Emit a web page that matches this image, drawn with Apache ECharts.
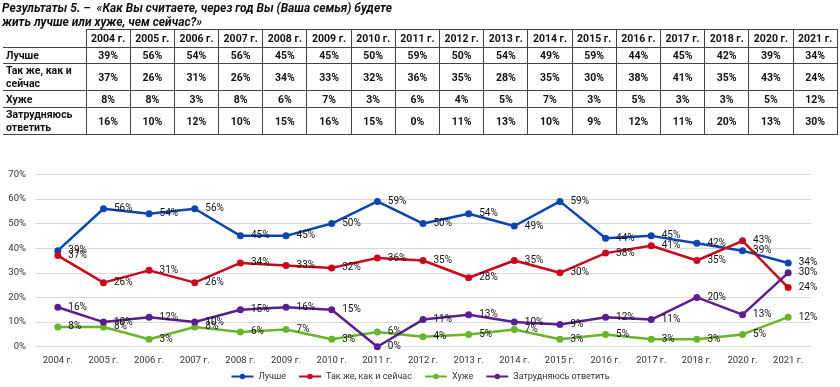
<!DOCTYPE html>
<html>
<head>
<meta charset="utf-8">
<script src="https://cdn.jsdelivr.net/npm/echarts@6/dist/echarts.min.js"></script>
<style>
  html, body { margin:0; padding:0; background:#fff; width:840px; height:387px; overflow:hidden; }
  #title { position:absolute; left:2px; top:1px; font-family:Roboto, 'Noto Sans', sans-serif; font-weight:bold; font-style:italic; font-size:12px; line-height:14px; color:#111; white-space:nowrap; }
  table { position:absolute; left:3px; top:29px; border-collapse:collapse; table-layout:fixed; font-family:Roboto, 'Noto Sans', sans-serif; font-weight:bold; font-size:10.5px; color:#111; }
  td { border:1px solid #444; padding:0; text-align:center; line-height:13px; }
  td.lab { text-align:left; padding-left:3px; border-left:none; }
  tr.h td.lab { border-top:none; }
  #chart { position:absolute; left:0; top:0; width:840px; height:387px; }
</style>
</head>
<body>
<div id="chart"></div>
<div id="title">Результаты 5. –&nbsp; «Как Вы считаете, через год Вы (Ваша семья) будете<br>жить лучше или хуже, чем сейчас?»</div>
<table id="tbl"></table>
<script>
const years = ['2004 г.','2005 г.','2006 г.','2007 г.','2008 г.','2009 г.','2010 г.','2011 г.','2012 г.','2013 г.','2014 г.','2015 г.','2016 г.','2017 г.','2018 г.','2020 г.','2021 г.'];
const seriesNames = ['Лучше','Так же, как и сейчас','Хуже','Затрудняюсь ответить'];
const rowLabels = ['Лучше','Так же, как и<br>сейчас','Хуже','Затрудняюсь<br>ответить'];
const better = [39,56,54,56,45,45,50,59,50,54,49,59,44,45,42,39,34];
const same   = [37,26,31,26,34,33,32,36,35,28,35,30,38,41,35,43,24];
const worse  = [8,8,3,8,6,7,3,6,4,5,7,3,5,3,3,5,12];
const hard   = [16,10,12,10,15,16,15,0,11,13,10,9,12,11,20,13,30];
const yTicks = [0,10,20,30,40,50,60,70];
const colors = ['#0a46ad','#c8081c','#6ab42c','#5a1f8e'];
const allData = [better, same, worse, hard];

// table
const tbl = document.getElementById('tbl');
const rowH = [18,16,27,17,27];
let html = '<colgroup><col style="width:83px">' + years.map(()=>'<col style="width:44.2px">').join('') + '</colgroup>';
html += '<tr class="h" style="height:'+rowH[0]+'px"><td class="lab"></td>' + years.map(y=>'<td>'+y+'</td>').join('') + '</tr>';
allData.forEach((arr,i)=>{
  html += '<tr style="height:'+rowH[i+1]+'px"><td class="lab">'+rowLabels[i]+'</td>' + arr.map(v=>'<td>'+v+'%</td>').join('') + '</tr>';
});
tbl.innerHTML = html;
tbl.style.width = (83 + 44.2*years.length) + 'px';

const chart = echarts.init(document.getElementById('chart'));
const font = 'Roboto, "Noto Sans", sans-serif';
chart.setOption({
  animation:false,
  textStyle:{fontFamily:font},
  color: colors,
  grid:{left:35, right:29, top:174.3, bottom:40.3, containLabel:false},
  xAxis:{type:'category', data:years, boundaryGap:true,
    axisLine:{show:false}, axisTick:{show:false},
    axisLabel:{color:'#333', fontSize:9.5, margin:9, fontFamily:font}},
  yAxis:{type:'value', min:yTicks[0], max:yTicks[yTicks.length-1], interval:10,
    axisLine:{show:false}, axisTick:{show:false},
    splitLine:{lineStyle:{color:'#d9d9d9', width:1}},
    axisLabel:{color:'#333', fontSize:9.5, margin:9, formatter:'{value}%', fontFamily:font}},
  legend:{bottom:1, left:'center', itemWidth:22, itemHeight:7, itemGap:12,
    textStyle:{color:'#333', fontSize:9, fontFamily:font},
    data:seriesNames},
  series: allData.map((arr,i)=>({
    name:seriesNames[i], type:'line', data:arr,
    symbol:'circle', symbolSize:7,
    lineStyle:{width:2.5, color:colors[i]},
    itemStyle:{color:colors[i]},
    label:{show:true, position:'right', distance:7, formatter:'{c}%', color:'#111', fontSize:10, fontFamily:font}
  }))
});
</script>
</body>
</html>
